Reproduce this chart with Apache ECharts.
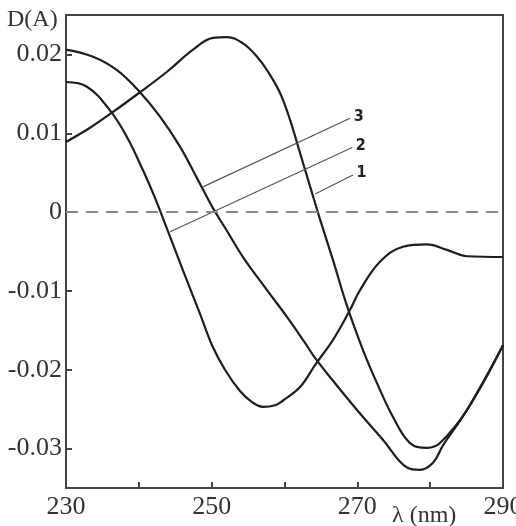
<!DOCTYPE html>
<html>
<head>
<meta charset="utf-8">
<script src="https://cdn.jsdelivr.net/npm/echarts@6/dist/echarts.min.js"></script>
<style>
  html, body { margin: 0; padding: 0; background: #fff; }
  #chart { width: 516px; height: 526px; }
</style>
</head>
<body>
<div id="chart"></div>
<script>
// 波长 (nm) 与 D(A)
var xP = [230, 233.3, 236.45, 240.16, 243.87, 247.44, 250.18, 252.11, 254.3, 256.23, 257.74, 259.39, 260.76, 262.13, 263.5, 264.87, 266.66, 268.58, 270.78, 272.7, 274.9, 277.23, 279.57, 281.35, 285.06, 290];
var yP = [0.0089, 0.0107, 0.0127, 0.0152, 0.0178, 0.0206, 0.0221, 0.0222, 0.0214, 0.0197, 0.0178, 0.0151, 0.0117, 0.0075, 0.0033, -0.0009, -0.0061, -0.0119, -0.0175, -0.0217, -0.0260, -0.0293, -0.0299, -0.0293, -0.0251, -0.0169];

var xQ = [230, 233.71, 237, 240.16, 242.91, 245.65, 247.99, 250.18, 252.11, 254.3, 257.6, 260.34, 262.82, 264.19, 266.66, 269.96, 273.53, 276.82, 278.61, 280.39, 281.76, 285.06, 290];
var yQ = [0.0206, 0.0197, 0.0180, 0.0152, 0.0121, 0.0083, 0.0043, 0.0005, -0.0024, -0.0057, -0.0099, -0.0133, -0.0166, -0.0185, -0.0214, -0.0251, -0.0289, -0.0324, -0.0327, -0.0318, -0.0296, -0.0251, -0.0169];

var xR = [230, 232.88, 236.04, 238.38, 240.57, 242.22, 243.32, 246.06, 248.4, 250.05, 251.83, 253.89, 255.54, 257.05, 258.7, 259.8, 262.13, 264.19, 266.66, 269, 270.37, 273.11, 276.27, 279.57, 282.31, 285.06, 290];
var yR = [0.0165, 0.0159, 0.0129, 0.0095, 0.0053, 0.0018, -0.0008, -0.0074, -0.0129, -0.0169, -0.0200, -0.0227, -0.0241, -0.0247, -0.0245, -0.0239, -0.0222, -0.0194, -0.0162, -0.0124, -0.0099, -0.0063, -0.0044, -0.0041, -0.0048, -0.0056, -0.0057];

// 刻度
var xLabels = [230, 250, 270, 290];
var xTicks = [240, 250, 260, 270, 280];
var yTicks = [-0.03, -0.02, -0.01, 0, 0.01, 0.02];

// 标注线 1,2,3 [起点, 终点]
var leaderNames = ['3', '2', '1'];
var leaders = [
  [[248.8, 0.0032], [269.0, 0.0119]],
  [[244.3, -0.0025], [269.3, 0.0082]],
  [[264.2, 0.0023], [269.4, 0.0047]]
];

function pairs(xs, ys) {
  return xs.map(function (x, i) { return [x, ys[i]]; });
}

var serif = 'Liberation Serif';
var ink = '#1e1e1e';

var myChart = echarts.init(document.getElementById('chart'));

var option = {
  backgroundColor: '#fff',
  animation: false,
  grid: {
    left: 66, right: 13, top: 15, bottom: 38,
    outerBoundsMode: 'none',
    show: true, borderColor: '#444', borderWidth: 2, backgroundColor: 'transparent'
  },
  xAxis: {
    type: 'value', min: 230, max: 290,
    axisLine: { show: true, onZero: false, lineStyle: { color: '#444', width: 2 } },
    axisTick: { show: true, inside: true, length: 6, customValues: xTicks, lineStyle: { color: '#444', width: 2 } },
    axisLabel: { customValues: xLabels, margin: 6, color: '#333', fontFamily: serif, fontSize: 26 },
    splitLine: { show: false }
  },
  yAxis: {
    type: 'value', min: -0.035, max: 0.025,
    axisLine: { show: true, onZero: false, lineStyle: { color: '#444', width: 2 } },
    axisTick: { show: true, inside: true, length: 6, customValues: yTicks, lineStyle: { color: '#444', width: 2 } },
    axisLabel: { customValues: yTicks, margin: 4, color: '#333', fontFamily: serif, fontSize: 26 },
    splitLine: { show: false }
  },
  graphic: [
    { type: 'text', left: 7, top: 8, style: { text: 'D(A)', font: '24px "Liberation Serif"', fill: '#333' } },
    { type: 'text', left: 392, top: 504, style: { text: 'λ (nm)', font: '24px "Liberation Serif"', fill: '#333' } }
  ],
  series: [
    {
      type: 'line', data: pairs(xP, yP), smooth: 0.4, symbol: 'none',
      lineStyle: { color: ink, width: 2.2 },
      markLine: {
        silent: true, symbol: 'none',
        lineStyle: { color: '#555', width: 1.2, type: 'solid' },
        label: {
          position: 'end', distance: 4, color: '#222', fontWeight: 'bold', fontSize: 16,
          fontFamily: '"DejaVu Sans Condensed", "Liberation Sans Narrow", sans-serif'
        },
        data: leaders.map(function (l, i) {
          return [{ coord: l[0] }, { coord: l[1], label: { formatter: leaderNames[i] } }];
        })
      },
      z: 3
    },
    { type: 'line', data: pairs(xQ, yQ), smooth: 0.4, symbol: 'none', lineStyle: { color: ink, width: 2.2 }, z: 3 },
    {
      type: 'line', data: pairs(xR, yR), smooth: 0.4, symbol: 'none', lineStyle: { color: ink, width: 2.2 }, z: 3,
      markLine: {
        silent: true, symbol: 'none', label: { show: false },
        lineStyle: { color: '#888', width: 2, type: [12, 8] },
        data: [{ yAxis: 0 }]
      }
    }
  ]
};

myChart.setOption(option);
</script>
</body>
</html>
